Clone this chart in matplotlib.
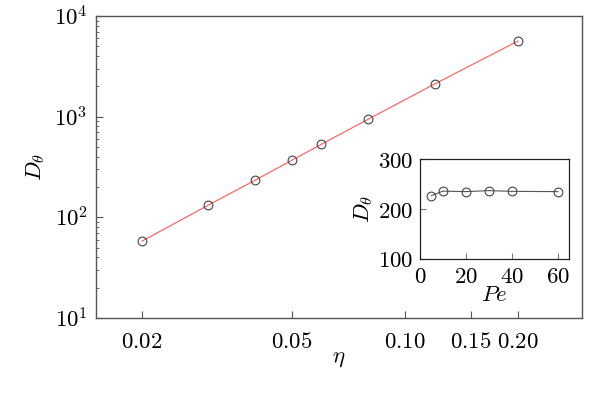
import matplotlib
matplotlib.use("Agg")
import matplotlib.pyplot as plt
from matplotlib.ticker import FixedLocator, NullLocator, LogLocator, FixedFormatter

plt.rcParams['mathtext.fontset'] = 'cm'
plt.rcParams['font.family'] = 'DejaVu Serif'

# main data
eta = [0.02, 0.03, 0.04, 0.05, 0.06, 0.08, 0.12, 0.20]
D_theta = [58, 132, 234, 368, 531, 946, 2108, 5640]
xticks = [0.02, 0.05, 0.10, 0.15, 0.20]
xticklabels = [r'$0.02$', r'$0.05$', r'$0.10$', r'$0.15$', r'$0.20$']
yticks = [1e1, 1e2, 1e3, 1e4]
yticklabels = [r'$10^{1}$', r'$10^{2}$', r'$10^{3}$', r'$10^{4}$']

# inset data
Pe = [5, 10, 20, 30, 40, 60]
D_Pe = [227, 236, 235, 237, 235.5, 235]
in_xticks = [0, 20, 40, 60]
in_yticks = [100, 200, 300]

fs = 16.5
spine_c = '#555555'

fig = plt.figure(figsize=(6.0, 3.99), dpi=100)
ax = fig.add_axes([0.16, 0.203, 0.81, 0.757])
ax.set_xscale('log')
ax.set_yscale('log')
ax.plot(eta, D_theta, '-', color='#ff5a5a', lw=0.8, zorder=2)
ax.plot(eta, D_theta, 'o', mfc='none', mec='#444444', mew=0.8, ms=6.3, zorder=3)
ax.set_xlim(0.0151, 0.296)
ax.set_ylim(10, 1e4)
ax.xaxis.set_major_locator(FixedLocator(xticks))
ax.xaxis.set_major_formatter(FixedFormatter(xticklabels))
ax.xaxis.set_minor_locator(NullLocator())
ax.yaxis.set_major_locator(FixedLocator(yticks))
ax.yaxis.set_major_formatter(FixedFormatter(yticklabels))
ax.yaxis.set_minor_locator(LogLocator(base=10, subs=range(2, 10)))
ax.tick_params(which='both', direction='in', top=False, right=False,
               labelsize=fs, color=spine_c)
ax.tick_params(axis='x', which='major', length=5, pad=9)
ax.tick_params(axis='y', which='major', length=5, pad=6)
ax.tick_params(axis='y', which='minor', length=2.5)
for s in ax.spines.values():
    s.set_color(spine_c)
    s.set_linewidth(1.0)
ax.set_xlabel(r'$\eta$', fontsize=fs, labelpad=-4)
ax.set_ylabel(r'$D_\theta$', fontsize=fs, labelpad=5)

# inset
ia = fig.add_axes([0.70, 0.351, 0.249, 0.25])
ia.plot(Pe, D_Pe, '-', color='#555555', lw=0.8, zorder=2)
ia.plot(Pe, D_Pe, 'o', mfc='none', mec='#444444', mew=0.8, ms=6.3, zorder=3)
ia.set_xlim(0, 65)
ia.set_ylim(100, 300)
ia.set_xticks(in_xticks)
ia.set_xticklabels([r'$%d$' % v for v in in_xticks])
ia.set_yticks(in_yticks)
ia.set_yticklabels([r'$%d$' % v for v in in_yticks])
ia.tick_params(direction='in', labelsize=fs, length=4, pad=5, color='#777777')
for s in ia.spines.values():
    s.set_color('#222222')
    s.set_linewidth(0.9)
ia.set_xlabel(r'$Pe$', fontsize=fs, labelpad=-3)
ia.set_ylabel(r'$D_\theta$', fontsize=fs, labelpad=2)

fig.savefig('out.png', dpi=100)
